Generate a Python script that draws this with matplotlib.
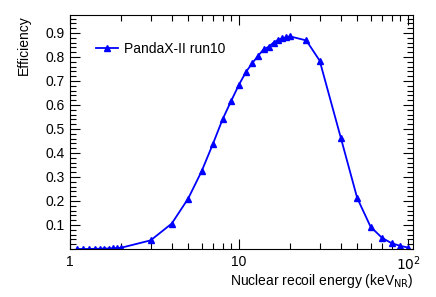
import numpy as np
import matplotlib
matplotlib.use('Agg')
import matplotlib.pyplot as plt
from matplotlib.ticker import FixedLocator, MultipleLocator, NullFormatter

plt.rcParams['font.family'] = ['Liberation Sans', 'DejaVu Sans']

# efficiency curve
energy = [1.1, 1.2, 1.3, 1.4, 1.5, 1.6, 1.7, 1.8, 1.9, 2.0,
          3, 4, 5, 6, 7, 8, 9, 10, 11, 12, 13, 14, 15, 16, 17, 18, 19, 20,
          25, 30, 40, 50, 60, 70, 80, 90, 100]
eff = [0.0, 0.0, 0.0, 0.001, 0.001, 0.002, 0.002, 0.003, 0.004, 0.005,
       0.036, 0.106, 0.21, 0.323, 0.437, 0.541, 0.618, 0.685, 0.738, 0.775,
       0.806, 0.832, 0.843, 0.860, 0.871, 0.878, 0.882, 0.886,
       0.869, 0.785, 0.464, 0.213, 0.093, 0.047, 0.024, 0.013, 0.006]
yticks = [0.1, 0.2, 0.3, 0.4, 0.5, 0.6, 0.7, 0.8, 0.9]
xticks = [1, 10, 100]
xticklabels = ['1', '10', '$10^2$']

fig = plt.figure(figsize=(4.36, 2.97), dpi=100)
ax = fig.add_axes([70/436, 1-249/297, (413-70)/436, (249-15)/297])

ax.plot(energy, eff, color='#0000ff', lw=1.3, marker='^', ms=5,
        label='PandaX-II run10')

ax.set_xscale('log')
ax.set_xlim(1.0, 107)
ax.set_ylim(0, 0.975)

ax.xaxis.set_major_locator(FixedLocator(xticks))
ax.set_xticklabels(xticklabels)
ax.xaxis.set_minor_locator(FixedLocator([m * 10**d for d in range(0, 2) for m in range(2, 10)]))
ax.xaxis.set_minor_formatter(NullFormatter())
ax.yaxis.set_major_locator(FixedLocator(yticks))
ax.set_yticklabels([str(v) for v in yticks])
ax.yaxis.set_minor_locator(MultipleLocator(0.02))

ax.tick_params(which='both', direction='in', top=True, right=True,
               labelsize=10, width=0.8, pad=4)
ax.tick_params(which='major', length=7)
ax.tick_params(which='minor', length=4)
for s in ax.spines.values():
    s.set_linewidth(0.8)

ax.set_xlabel('Nuclear recoil energy (keV$_{\\mathrm{NR}}$)', fontsize=10,
              ha='right', x=1.0, labelpad=-1)
ax.set_ylabel('Efficiency', fontsize=10, ha='right', y=1.0, labelpad=10)

ax.legend(loc='upper left', bbox_to_anchor=(0.06, 0.91), frameon=False,
          fontsize=10, handlelength=1.6, handletextpad=0.4, borderaxespad=0)

fig.savefig('out.png', dpi=100)
